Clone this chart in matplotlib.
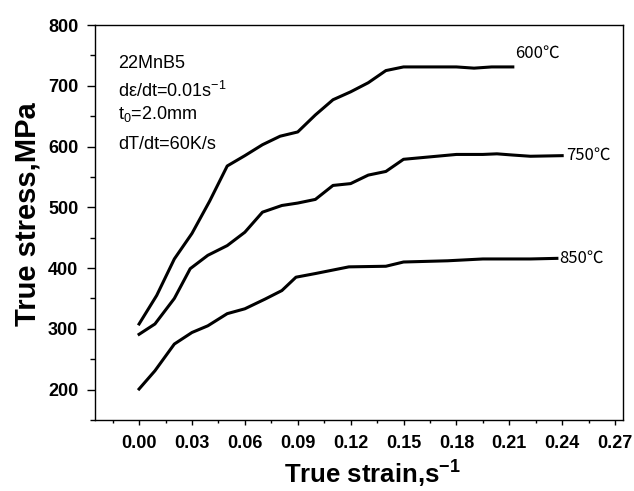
import matplotlib
matplotlib.use('Agg')
import matplotlib.pyplot as plt
import numpy as np
from matplotlib.ticker import MultipleLocator

plt.rcParams['font.family'] = ['Liberation Sans', 'Noto Sans CJK SC', 'DejaVu Sans']
plt.rcParams['mathtext.fontset'] = 'custom'
plt.rcParams['mathtext.rm'] = 'Liberation Sans'
plt.rcParams['mathtext.it'] = 'Liberation Sans'
plt.rcParams['mathtext.bf'] = 'Liberation Sans:bold'

# flow curves (strain, stress in MPa)
strain_600 = [0.0, 0.01, 0.02, 0.03, 0.04, 0.05, 0.06, 0.07, 0.08, 0.09, 0.10,
              0.11, 0.12, 0.13, 0.14, 0.15, 0.16, 0.17, 0.18, 0.19, 0.20, 0.212]
stress_600 = [308, 355, 415, 457, 510, 568, 585, 603, 617, 624, 652,
              677, 690, 705, 725, 731, 731, 731, 731, 729, 731, 731]

strain_750 = [0.0, 0.009, 0.02, 0.029, 0.039, 0.05, 0.06, 0.07, 0.081, 0.09, 0.10,
              0.11, 0.12, 0.13, 0.14, 0.15, 0.165, 0.18, 0.195, 0.203, 0.212, 0.222, 0.24]
stress_750 = [291, 308, 350, 399, 421, 437, 459, 492, 503, 507, 513,
              536, 539, 553, 559, 579, 583, 587, 587, 588, 586, 584, 585]

strain_850 = [0.0, 0.009, 0.02, 0.03, 0.039, 0.05, 0.06, 0.0715, 0.081, 0.089, 0.10,
              0.119, 0.14, 0.15, 0.175, 0.195, 0.222, 0.237]
stress_850 = [201, 231, 275, 294, 305, 325, 333, 349, 363, 385, 391,
              402, 403, 410, 412, 415, 415, 416]

curve_labels = ['600℃', '750℃', '850℃']
notes = ['22MnB5', r'd$\epsilon$/dt=0.01s$^{-1}$', r't$_0$=2.0mm', 'dT/dt=60K/s']

fig = plt.figure(figsize=(6.34, 4.91), dpi=100)
ax = fig.add_axes([95/634, 1-420/491, 528/634, 395/491])

for x, y in [(strain_600, stress_600), (strain_750, stress_750), (strain_850, stress_850)]:
    ax.plot(x, y, color='black', lw=2.2, solid_joinstyle='round')

cjk = ['Noto Sans CJK SC', 'Liberation Sans']
ax.text(strain_600[-1] + 0.0015, stress_600[-1] + 22, curve_labels[0], fontsize=12, va='center', ha='left', family=cjk)
ax.text(strain_750[-1] + 0.002, stress_750[-1], curve_labels[1], fontsize=12, va='center', ha='left', family=cjk)
ax.text(strain_850[-1] + 0.0015, stress_850[-1], curve_labels[2], fontsize=12, va='center', ha='left', family=cjk)

note_y = [737, 692, 653, 604]
for txt, yy in zip(notes, note_y):
    ax.text(-0.012, yy, txt, fontsize=13, va='center', ha='left')

ax.set_xlim(-0.025, 0.2745)
ax.set_ylim(150, 800)
ax.set_xticks(np.arange(0, 0.28, 0.03))
ax.set_yticks(np.arange(200, 801, 100))
ax.xaxis.set_minor_locator(MultipleLocator(0.015))
ax.yaxis.set_minor_locator(MultipleLocator(50))
ax.xaxis.set_major_formatter(plt.FormatStrFormatter('%.2f'))

ax.tick_params(axis='x', which='major', direction='out', length=3.6, width=1, pad=7, labelsize=13)
ax.tick_params(axis='x', which='minor', direction='out', length=2, width=1)
ax.tick_params(axis='y', which='major', direction='out', length=6, width=1, pad=6, labelsize=13)
ax.tick_params(axis='y', which='minor', direction='out', length=3.6, width=1)
for lab in ax.get_xticklabels() + ax.get_yticklabels():
    lab.set_fontweight('bold')
for sp in ax.spines.values():
    sp.set_linewidth(1.0)

ax.set_xlabel(r'True strain,s$^{\mathbf{-1}}$', fontsize=18.5, fontweight='bold', va='center')
ax.xaxis.set_label_coords(0.525, -0.137)
ax.set_ylabel('True stress,MPa', fontsize=21, fontweight='bold', va='center')
ax.yaxis.set_label_coords(-0.128, 0.52)

fig.savefig('out.png', dpi=100)
